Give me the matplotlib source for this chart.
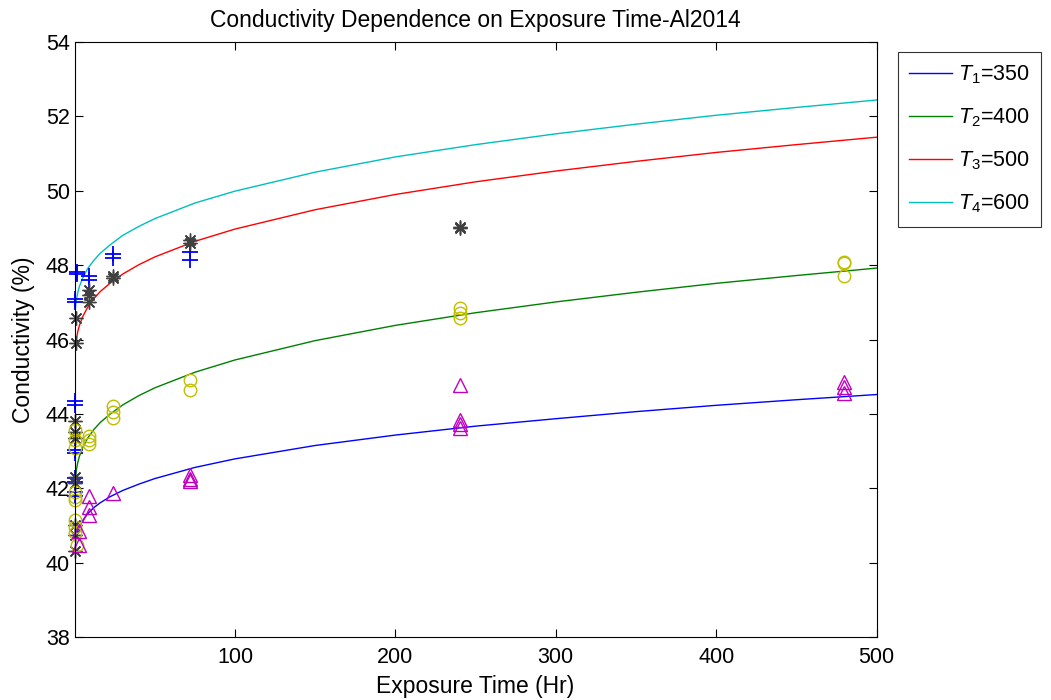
import matplotlib
matplotlib.use("Agg")
import matplotlib.pyplot as plt

plt.rcParams['font.family'] = ['Liberation Sans', 'DejaVu Sans']
plt.rcParams['mathtext.fontset'] = 'custom'
plt.rcParams['mathtext.rm'] = 'Liberation Sans'
plt.rcParams['mathtext.it'] = 'Liberation Sans:italic'

# fitted curves
t_fit = [0, 0.005, 0.02, 0.05, 0.1, 0.3, 0.6, 1, 2, 3, 5, 8, 12, 16, 22, 30, 40, 50, 75,
         100, 150, 200, 250, 300, 350, 400, 450, 500]
fit_350 = [39.4, 40.08, 40.22, 40.28, 40.35, 40.49, 40.60, 40.70, 40.86, 40.97, 41.13, 41.31,
           41.48, 41.61, 41.77, 41.94, 42.11, 42.26, 42.56, 42.79,
           43.15, 43.43, 43.67, 43.87, 44.06, 44.23, 44.38, 44.52]
fit_400 = [41.47, 41.67, 41.78, 41.88, 41.97, 42.17, 42.33, 42.47, 42.70, 42.86, 43.09, 43.34,
           43.58, 43.77, 43.99, 44.24, 44.49, 44.70, 45.12, 45.45,
           45.97, 46.38, 46.72, 47.01, 47.27, 47.51, 47.72, 47.92]
fit_500 = [44.99, 45.19, 45.30, 45.40, 45.49, 45.69, 45.85, 45.99, 46.22, 46.38, 46.61, 46.86,
           47.10, 47.29, 47.51, 47.76, 48.01, 48.22, 48.64, 48.97,
           49.49, 49.90, 50.24, 50.53, 50.79, 51.03, 51.24, 51.44]
fit_600 = [46.05, 46.25, 46.36, 46.46, 46.55, 46.74, 46.90, 47.04, 47.27, 47.43, 47.65, 47.90,
           48.13, 48.32, 48.54, 48.80, 49.04, 49.25, 49.67, 49.99,
           50.50, 50.91, 51.24, 51.53, 51.79, 52.03, 52.24, 52.44]
labels = [r'$T_1$=350', r'$T_2$=$\mathit{400}$', r'$T_3$=$\mathit{500}$', r'$T_4$=$\mathit{600}$']

# measured points
t_plus = [0]*10 + [1.5, 1.5, 9, 9, 24, 24, 72, 72]
v_plus = [47.1, 47.0, 44.35, 44.25, 43.02, 42.95, 42.28, 42.18, 41.9, 41.8,
          47.82, 47.75, 47.7, 47.6, 48.3, 48.2, 48.35, 48.15]
t_star = [0]*8 + [1, 1, 9, 9, 9, 24, 24, 72, 72, 240, 240]
v_star = [43.8, 43.5, 43.35, 42.3, 42.15, 41.0, 40.75, 40.3,
          46.58, 45.9, 47.33, 47.2, 47.0, 47.7, 47.65, 48.68, 48.6, 49.02, 49.0]
t_circ = [0]*9 + [1.5, 9, 9, 9, 24, 24, 24, 72, 72, 240, 240, 240, 480, 480, 480]
v_circ = [43.57, 43.3, 43.08, 41.91, 41.77, 41.69, 41.15, 40.97, 40.8,
          40.47, 43.4, 43.3, 43.2, 44.21, 44.06, 43.89, 44.91, 44.65,
          46.85, 46.71, 46.58, 48.09, 48.05, 47.7]
t_tri = [3, 3, 9, 9, 9, 24, 72, 72, 72, 240, 240, 240, 240, 480, 480, 480]
v_tri = [40.85, 40.47, 41.8, 41.5, 41.28, 41.86, 42.35, 42.25, 42.2,
         44.78, 43.84, 43.72, 43.62, 44.87, 44.73, 44.55]

fig = plt.figure(figsize=(10.51, 7), dpi=100)
ax = fig.add_axes([0.071, 0.09, 0.763, 0.85])

line_colors = ['#0000ff', '#008000', '#ff0000', '#00bfbf']
for ys, c, lab in zip([fit_350, fit_400, fit_500, fit_600], line_colors, labels):
    ax.plot(t_fit, ys, color=c, lw=1.0, label=lab)

ax.plot(t_plus, v_plus, ls='', marker='+', color='#0000ff', ms=11, mew=1.3, clip_on=False)
ax.plot(t_star, v_star, ls='', marker=(8, 2, 0), color='#404040', ms=10, mew=1.0, clip_on=False)
ax.plot(t_circ, v_circ, ls='', marker='o', mfc='none', mec='#bfbf00', ms=9, mew=1.0, clip_on=False)
ax.plot(t_tri, v_tri, ls='', marker='^', mfc='none', mec='#bf00bf', ms=10, mew=1.0, clip_on=False)

ax.set_xlim(0, 500)
ax.set_ylim(38, 54)
ax.set_xticks([100, 200, 300, 400, 500])
ax.set_yticks(range(38, 55, 2))
ax.tick_params(direction='in', top=True, right=True, labelsize=15.5, length=6)
ax.tick_params(axis='x', pad=7)
ax.set_xlabel('Exposure Time (Hr)', fontsize=16.5, labelpad=5)
ax.set_ylabel('Conductivity (%)', fontsize=16.5, labelpad=8)
ax.set_title('Conductivity Dependence on Exposure Time-Al2014', fontsize=16.5, pad=11)

leg = ax.legend(loc='upper left', bbox_to_anchor=(0.854, 0.926), bbox_transform=fig.transFigure,
                fontsize=15.5, fancybox=False, edgecolor='black', handlelength=2.0,
                handletextpad=0.25, labelspacing=0.95, borderaxespad=0, borderpad=0.55)
leg.get_frame().set_linewidth(0.8)

fig.savefig('out.png', dpi=100)
